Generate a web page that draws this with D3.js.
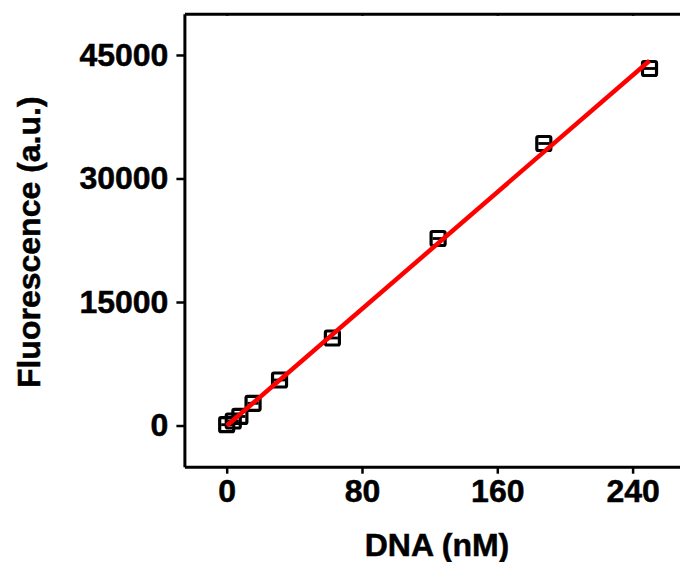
<!DOCTYPE html>
<html>
<head>
<meta charset="utf-8">
<script src="https://cdn.jsdelivr.net/npm/d3@7"></script>
<style>
  body { margin: 0; background: #fff; }
  svg text { font-family: "Liberation Sans", Arial, sans-serif; font-weight: bold; fill: #000; stroke: #000; stroke-width: 0.5px; }
</style>
</head>
<body>
<div id="chart"></div>
<script>
//// DATA

const dna = [0, 3.9, 7.8, 15.6, 31.25, 62.5, 125, 187.5, 250];
const fluorescence = [100, 550, 1100, 2700, 5530, 10630, 22710, 34250, 43360];
const xTicks = [0, 80, 160, 240];
const yTicks = [0, 15000, 30000, 45000];

//// LAYOUT

const W = 680, H = 562;
const svg = d3.select("#chart").append("svg")
  .attr("width", W).attr("height", H);

const x = d3.scaleLinear().domain([-25, 275]).range([184.4, 691.8]);
const y = d3.scaleLinear().domain([-5000, 50000]).range([466.7, 13.8]);

// least squares fit of the points
const fit = (() => {
  const mx = d3.mean(dna), my = d3.mean(fluorescence);
  const sxy = d3.sum(dna, (d, i) => (d - mx) * (fluorescence[i] - my));
  const sxx = d3.sum(dna, d => (d - mx) * (d - mx));
  const slope = sxy / sxx;
  return { slope, intercept: my - slope * mx };
})();

//// AXES

const styleAxis = (g) => {
  g.select(".domain").attr("stroke", "#000").attr("stroke-width", 3);
  g.selectAll(".tick line").attr("stroke", "#000").attr("stroke-width", 2.5);
  g.selectAll(".tick text").style("font-size", "32px");
};

svg.append("g")
  .attr("transform", `translate(0,${y(-5000)})`)
  .call(d3.axisBottom(x).tickValues(xTicks).tickFormat(d3.format("d")).tickSize(7).tickPadding(6).tickSizeOuter(0))
  .call(styleAxis);

svg.append("g")
  .attr("transform", `translate(0,${y(50000)})`)
  .call(d3.axisTop(x).tickValues(xTicks).tickSize(-2).tickFormat("").tickSizeOuter(0))
  .call(styleAxis);

svg.append("g")
  .attr("transform", `translate(${x(-25)},0)`)
  .call(d3.axisLeft(y).tickValues(yTicks).tickFormat(d3.format("d")).tickSize(8).tickPadding(8).tickSizeOuter(0))
  .call(styleAxis);

svg.append("text")
  .attr("transform", `translate(40,${(y(-5000) + y(50000)) / 2 + 2}) rotate(-90)`)
  .attr("text-anchor", "middle")
  .style("font-size", "32px")
  .text("Fluorescence (a.u.)");

svg.append("text")
  .attr("x", 437).attr("y", 556)
  .attr("text-anchor", "middle")
  .style("font-size", "32px")
  .text("DNA (nM)");

//// MARKS

const pts = dna.map((d, i) => ({ x: d, y: fluorescence[i] }));

const marker = svg.append("g").selectAll("g.pt")
  .data(pts)
  .join("g")
  .attr("class", "pt")
  .attr("transform", d => `translate(${x(d.x)},${y(d.y)})`);

marker.append("rect")
  .attr("x", -7).attr("y", -7)
  .attr("width", 14).attr("height", 14)
  .attr("rx", 1.5)
  .attr("fill", "none")
  .attr("stroke", "#000")
  .attr("stroke-width", 3.2);

marker.append("line")
  .attr("x1", -5.5).attr("x2", 5.5)
  .attr("stroke", "#000")
  .attr("stroke-width", 2.8);

svg.append("line")
  .attr("x1", x(0)).attr("y1", y(fit.intercept))
  .attr("x2", x(250)).attr("y2", y(fit.slope * 250 + fit.intercept))
  .attr("stroke", "#ff0000")
  .attr("stroke-width", 4.5);
</script>
</body>
</html>
